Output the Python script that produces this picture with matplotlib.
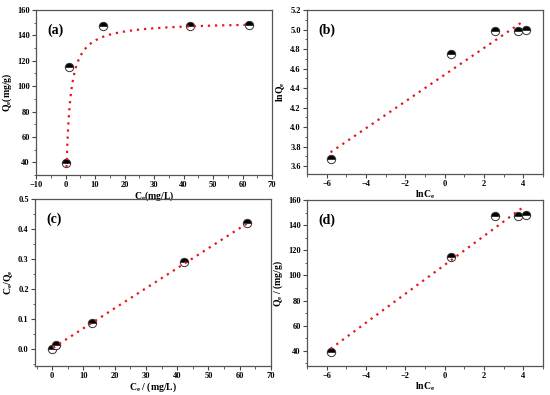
import matplotlib.pyplot as plt
import numpy as np
from matplotlib.ticker import AutoMinorLocator, MultipleLocator

# values
ce = [0.003, 1.35, 12.8, 42.3, 62.3]          # Ce (mg/L)
qe = [39.5, 115.0, 147.0, 147.0, 148.0]       # Qe (mg/g)
ln_ce = [-5.8, 0.3, 2.55, 3.75, 4.13]
ln_qe = [3.67, 4.745, 4.99, 4.99, 5.0]
ce_over_qe = [0.0, 0.012, 0.088, 0.289, 0.421]

# fitted model parameters
langmuir_qm, langmuir_k = 151.0, 0.9
freundlich_b, freundlich_a = 0.137, 4.537
linear_b, linear_a = 0.00668, 0.002
temkin_b, temkin_a = 11.5, 108.4

plt.rcParams['font.family'] = ['Liberation Serif', 'DejaVu Serif']
plt.rcParams['font.weight'] = 'bold'
plt.rcParams['mathtext.fontset'] = 'custom'
plt.rcParams['mathtext.rm'] = 'Liberation Serif:bold'
plt.rcParams['mathtext.it'] = 'Liberation Serif:bold'
plt.rcParams['mathtext.bf'] = 'Liberation Serif:bold'

fig = plt.figure(figsize=(5.5, 3.95), dpi=100)
W, H = 550, 395


def make_ax(l, r, t, b):
    ax = fig.add_axes([l / W, 1 - b / H, (r - l) / W, (b - t) / H])
    ax.patch.set_visible(False)
    return ax


ax_a = make_ax(36, 272, 10, 175)
ax_b = make_ax(307, 543, 10, 174)
ax_c = make_ax(35, 271, 199, 366)
ax_d = make_ax(307, 543, 200, 366)

fit_style = dict(color='#e8141c', linestyle=(0, (1, 2.2)), linewidth=1.6, zorder=3)
pt_style = dict(linestyle='none', marker='o', markersize=6, fillstyle='top',
                markerfacecolor='black', markerfacecoloralt='white',
                markeredgecolor='#333333', markeredgewidth=0.7, zorder=2)


def style(ax, label, xlab, ylab):
    for s in ax.spines.values():
        s.set_color('#555555')
        s.set_linewidth(0.9)
    ax.tick_params(which='both', direction='out', labelsize=6, color='#444444',
                   top=False, right=False, pad=1.5)
    ax.tick_params(which='major', length=3)
    ax.tick_params(which='minor', length=1.8)
    ax.xaxis.set_minor_locator(AutoMinorLocator(2))
    ax.yaxis.set_minor_locator(AutoMinorLocator(2))
    for t in ax.get_xticklabels() + ax.get_yticklabels():
        t.set_fontweight('bold')
    ax.set_xlabel(xlab, fontsize=7, fontweight='bold', labelpad=0.5)
    ax.set_ylabel(ylab, fontsize=7, fontweight='bold', labelpad=2)
    ax.text(0.05, 0.92, label, transform=ax.transAxes, fontsize=10,
            fontweight='bold', va='top', ha='left')


# (a) Langmuir
c_fit = np.linspace(0.35, max(ce), 400)
ax_a.plot(c_fit, langmuir_qm * langmuir_k * c_fit / (1 + langmuir_k * c_fit), **fit_style)
ax_a.plot(ce, qe, **pt_style)
ax_a.set_xlim(-10, 70)
ax_a.set_ylim(30, 160)
ax_a.xaxis.set_major_locator(MultipleLocator(10))
ax_a.yaxis.set_major_locator(MultipleLocator(20))
style(ax_a, '(a)', r'C$_e$(mg/L)', r'Q$_e$(mg/g)')

# (b) Freundlich
x_fit = np.linspace(min(ln_ce), 3.95, 50)
ax_b.plot(x_fit, freundlich_a + freundlich_b * x_fit, **fit_style)
ax_b.plot(ln_ce, ln_qe, **pt_style)
ax_b.set_xlim(-7, 5)
ax_b.set_ylim(3.52, 5.2)
ax_b.xaxis.set_major_locator(MultipleLocator(2))
ax_b.yaxis.set_major_locator(MultipleLocator(0.2))
ax_b.yaxis.set_major_formatter(plt.FormatStrFormatter('%.1f'))
style(ax_b, '(b)', r'lnC$_e$', r'lnQ$_e$')

# (c) linear Langmuir
x_fit = np.linspace(0.3, max(ce), 50)
ax_c.plot(x_fit, linear_a + linear_b * x_fit, **fit_style)
ax_c.plot(ce, ce_over_qe, **pt_style)
ax_c.set_xlim(-5.5, 70)
ax_c.set_ylim(-0.057, 0.5)
ax_c.xaxis.set_major_locator(MultipleLocator(10))
ax_c.yaxis.set_major_locator(MultipleLocator(0.1))
ax_c.yaxis.set_major_formatter(plt.FormatStrFormatter('%.1f'))
style(ax_c, '(c)', r'C$_e$ / (mg/L)', r'C$_e$/Q$_e$')

# (d) Temkin
x_fit = np.linspace(min(ln_ce), 4.1, 50)
ax_d.plot(x_fit, temkin_a + temkin_b * x_fit, **fit_style)
ax_d.plot(ln_ce, qe, **pt_style)
ax_d.set_xlim(-7, 5)
ax_d.set_ylim(28, 160)
ax_d.xaxis.set_major_locator(MultipleLocator(2))
ax_d.yaxis.set_major_locator(MultipleLocator(20))
style(ax_d, '(d)', r'lnC$_e$', r'Q$_e$ / (mg/g)')

fig.savefig('out.png', dpi=100)
